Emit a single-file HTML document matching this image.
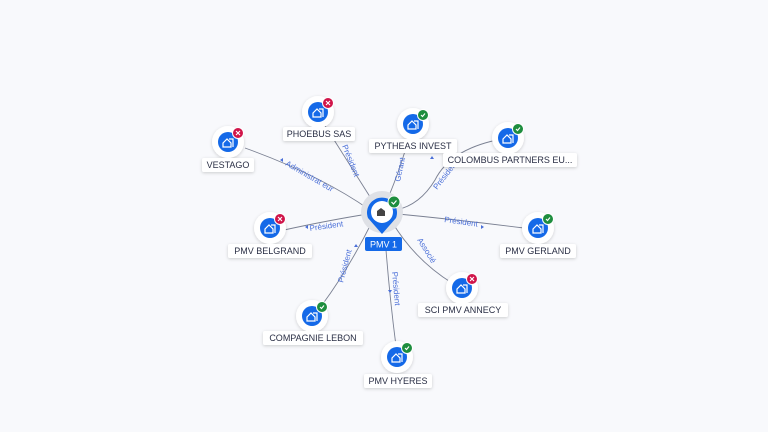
<!DOCTYPE html>
<html><head><meta charset="utf-8"><style>
html,body{margin:0;padding:0;background:#f8f9fc;}
svg{display:block;font-family:"Liberation Sans",sans-serif;}
.lbl{font-size:9px;fill:#2a2f45;}
.el{font-size:8px;fill:#4a6fd8;}
</style></head><body>
<svg width="768" height="432" viewBox="0 0 768 432" xmlns="http://www.w3.org/2000/svg">
<defs>
<g id="house"><path d="M-5,1 L-1,-3 L3,1 L3,5 L-5,5 Z" fill="none" stroke="#fff" stroke-width="1.2"/><path d="M1,-3 L5,-3 L5,5" fill="none" stroke="#fff" stroke-width="1.2"/></g>
<filter id="sh" x="-50%" y="-50%" width="200%" height="200%"><feDropShadow dx="0" dy="1" stdDeviation="1.5" flood-color="#000" flood-opacity="0.18"/></filter>
</defs>
<g fill="none" stroke="#7a8092" stroke-width="0.9">
<path d="M245,148 Q320,175 370,210"/>
<path d="M324,124 Q350,165 372,200"/>
<path d="M410,134 Q400,170 388,198"/>
<path d="M497,140 Q450,150 435,180 Q420,205 396,210"/>
<path d="M284,230 Q330,220 368,214"/>
<path d="M524,228 Q460,220 398,214"/>
<path d="M452,283 Q415,260 392,222"/>
<path d="M322,305 Q348,270 372,222"/>
<path d="M396,346 Q390,300 386,250"/>
</g>
<g class="el">
<text transform="translate(285,165) rotate(30)">Administrat eur</text>
<text transform="translate(342,146) rotate(68)">Président</text>
<text transform="translate(400,182) rotate(-78)">Gérant</text>
<text transform="translate(437,190) rotate(-52)">Président</text>
<text transform="translate(310,231) rotate(-8)">Président</text>
<text transform="translate(444,222) rotate(8)">Président</text>
<text transform="translate(417,240) rotate(58)">Associé</text>
<text transform="translate(343,283) rotate(-75)">Président</text>
<text transform="translate(392,272) rotate(85)">Président</text>
</g>
<g fill="#4a6fd8">
<path d="M280,160 l3,-2 l0,4z"/><path d="M432,156 l2,3 l-4,0z"/><path d="M484,227 l-3,-2 l0,4z"/><path d="M356,244 l2,3 l-4,0z"/><path d="M390,293 l2,-3 l-4,0z"/><path d="M305,227 l3,-2 l0,4z"/>
</g>
<circle cx="382" cy="212" r="21" fill="#dfe1e6"/>
<path d="M368,218 A15,15 0 1 1 396,218 L382,234 Z" fill="#1469e8"/>
<circle cx="382" cy="212" r="11" fill="#fff"/>
<path d="M377,216 L377,211 L381,208 L385,211 L385,216 Z" fill="#444"/>
<circle cx="394" cy="202" r="6" fill="#1e8e3e" stroke="#fff" stroke-width="1"/>
<path d="M391.5,202 l2,2 l3,-3.5" stroke="#fff" fill="none" stroke-width="1.2"/>
<rect x="365" y="237" width="37" height="14" rx="2" fill="#1469e8"/>
<text x="383.5" y="247.5" text-anchor="middle" font-size="9" fill="#fff">PMV 1</text>
<g filter="url(#sh)">
<circle cx="228" cy="142" r="16" fill="#fff"/><circle cx="318" cy="112" r="16" fill="#fff"/><circle cx="413" cy="124" r="16" fill="#fff"/><circle cx="508" cy="138" r="16" fill="#fff"/><circle cx="270" cy="228" r="16" fill="#fff"/><circle cx="538" cy="228" r="16" fill="#fff"/><circle cx="462" cy="288" r="16" fill="#fff"/><circle cx="312" cy="316" r="16" fill="#fff"/><circle cx="397" cy="357" r="16" fill="#fff"/>
<rect x="202" y="158" width="52" height="14" rx="2" fill="#fff"/>
<rect x="283" y="127" width="72" height="14" rx="2" fill="#fff"/>
<rect x="369" y="139" width="88" height="14" rx="2" fill="#fff"/>
<rect x="443" y="153" width="134" height="14" rx="2" fill="#fff"/>
<rect x="228" y="244" width="84" height="14" rx="2" fill="#fff"/>
<rect x="500" y="244" width="76" height="14" rx="2" fill="#fff"/>
<rect x="418" y="303" width="90" height="14" rx="2" fill="#fff"/>
<rect x="263" y="331" width="100" height="14" rx="2" fill="#fff"/>
<rect x="364" y="374" width="68" height="14" rx="2" fill="#fff"/>
</g>
<g fill="#1469e8">
<circle cx="228" cy="142" r="10"/><circle cx="318" cy="112" r="10"/><circle cx="413" cy="124" r="10"/><circle cx="508" cy="138" r="10"/><circle cx="270" cy="228" r="10"/><circle cx="538" cy="228" r="10"/><circle cx="462" cy="288" r="10"/><circle cx="312" cy="316" r="10"/><circle cx="397" cy="357" r="10"/>
</g>
<use href="#house" x="228" y="142"/><use href="#house" x="318" y="112"/><use href="#house" x="413" y="124"/><use href="#house" x="508" y="138"/><use href="#house" x="270" y="228"/><use href="#house" x="538" y="228"/><use href="#house" x="462" y="288"/><use href="#house" x="312" y="316"/><use href="#house" x="397" y="357"/>
<g stroke="#fff" stroke-width="1">
<circle cx="238" cy="133" r="5.5" fill="#d0154a"/><circle cx="328" cy="103" r="5.5" fill="#d0154a"/><circle cx="280" cy="219" r="5.5" fill="#d0154a"/><circle cx="472" cy="279" r="5.5" fill="#d0154a"/>
<circle cx="423" cy="115" r="5.5" fill="#1e8e3e"/><circle cx="518" cy="129" r="5.5" fill="#1e8e3e"/><circle cx="548" cy="219" r="5.5" fill="#1e8e3e"/><circle cx="322" cy="307" r="5.5" fill="#1e8e3e"/><circle cx="407" cy="348" r="5.5" fill="#1e8e3e"/>
</g>
<g stroke="#fff" stroke-width="1.1" fill="none">
<path d="M236,131 l4,4 M240,131 l-4,4"/><path d="M326,101 l4,4 M330,101 l-4,4"/><path d="M278,217 l4,4 M282,217 l-4,4"/><path d="M470,277 l4,4 M474,277 l-4,4"/>
<path d="M421,115 l1.5,1.5 l2.5,-3"/><path d="M516,129 l1.5,1.5 l2.5,-3"/><path d="M546,219 l1.5,1.5 l2.5,-3"/><path d="M320,307 l1.5,1.5 l2.5,-3"/><path d="M405,348 l1.5,1.5 l2.5,-3"/>
</g>
<g class="lbl" text-anchor="middle">
<text x="228" y="168">VESTAGO</text>
<text x="319" y="137">PHOEBUS SAS</text>
<text x="413" y="149">PYTHEAS INVEST</text>
<text x="510" y="163">COLOMBUS PARTNERS EU...</text>
<text x="270" y="254">PMV BELGRAND</text>
<text x="538" y="254">PMV GERLAND</text>
<text x="463" y="313">SCI PMV ANNECY</text>
<text x="313" y="341">COMPAGNIE LEBON</text>
<text x="398" y="384">PMV HYERES</text>
</g>
</svg>
</body></html>
